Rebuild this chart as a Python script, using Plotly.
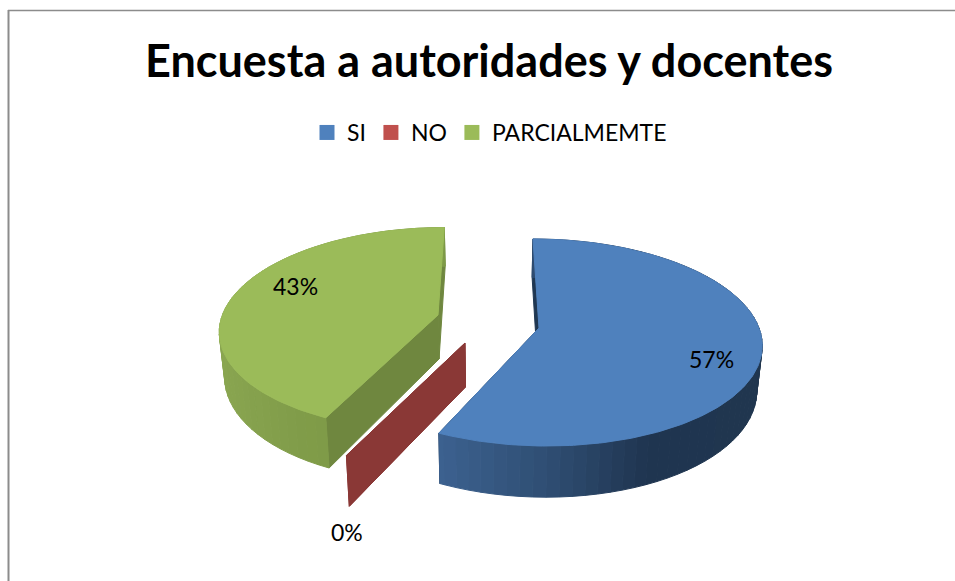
import numpy as np
import plotly.graph_objects as go

# data
categories = ["SI", "NO", "PARCIALMEMTE"]
values = [57, 0, 43]
title_text = "Encuesta a autoridades y docentes"

# style
legend_colors = ["#4F81BD", "#C0504D", "#9BBB59"]
top_colors = ["#4F81BD", "#8A3836", "#9BBB59"]
face_colors = ["#1F3752", "#8A3836", "#6F873F"]
wall_stops = [
    {"u": [-0.42, 0.0, 0.4, 1.0], "rgb": [(60, 97, 143), (47, 78, 115), (31, 53, 80), (32, 54, 79)]},
    {"u": [-1.0, 1.0], "rgb": [(138, 56, 54), (138, 56, 54)]},
    {"u": [-1.0, -0.42, 1.0], "rgb": [(138, 166, 81), (126, 154, 71), (126, 154, 71)]},
]
# exploded position of each slice's apex on the page, and its radius scale
apex = [(539, 328), (465, 343), (438, 315)]
radius_scale = [1.0, 1.06, 0.98]
label_xy = [(711, 359), (347, 532), (295, 286)]

# 3-d pie camera
VX = 490  # vanishing x
R = 220   # radius in x
K = 101.5  # radius in y
P = 0.14  # perspective along depth
Q = 0.02  # perspective along height
D = 44    # wall height


def project(slice_i, deg, r=1.0, z=0):
    ox, oy = apex[slice_i]
    t = np.radians(deg)
    u = r * radius_scale[slice_i] * np.sin(t)
    v = r * radius_scale[slice_i] * np.cos(t)
    s = 1 / (1 + P * v)
    x = VX + (ox + R * u - VX) * s
    y = oy - K * v * s + D * s * z
    x = VX + (x - VX) * (1 - Q * z)
    return x, y


def poly(fig, pts, color):
    xs = [p[0] for p in pts] + [pts[0][0]]
    ys = [p[1] for p in pts] + [pts[0][1]]
    fig.add_scatter(x=xs, y=ys, mode="lines", fill="toself", fillcolor=color,
                    line=dict(color=color, width=1), hoverinfo="skip", showlegend=False)


def wall_color(i, deg):
    u = np.sin(np.radians(deg))
    st = wall_stops[i]
    c = [np.interp(u, st["u"], [p[k] for p in st["rgb"]]) for k in range(3)]
    return f"rgb({c[0]:.0f},{c[1]:.0f},{c[2]:.0f})"


fig = go.Figure()

total = sum(values)
starts = list(np.cumsum([0] + values[:-1]) / total * 360)
ends = list(np.cumsum(values) / total * 360)

for i in [2, 1, 0]:
    a0, a1 = starts[i], ends[i]
    # cut faces
    for a in (a0, a1):
        poly(fig, [project(i, a, 0), project(i, a), project(i, a, z=1), project(i, a, 0, z=1)], face_colors[i])
    if a1 > a0:
        # outer wall
        angs = np.arange(a0, a1, 3.0).tolist() + [a1]
        for b0, b1 in zip(angs[:-1], angs[1:]):
            poly(fig, [project(i, b0), project(i, b1), project(i, b1, z=1), project(i, b0, z=1)],
                 wall_color(i, (b0 + b1) / 2))
        # top
        arc = np.arange(a0, a1, 1.0).tolist() + [a1]
        poly(fig, [project(i, a0, 0)] + [project(i, a) for a in arc], top_colors[i])

# legend entries
for name, color in zip(categories, legend_colors):
    fig.add_scatter(x=[None], y=[None], mode="markers", name=name,
                    marker=dict(symbol="square", size=15, color=color))

annotations = [
    dict(x=x, y=y, text=f"{v / total:.0%}", showarrow=False, xref="x", yref="y",
         font=dict(family="Lato", size=23, color="#000000"))
    for (x, y), v in zip(label_xy, values)
]

fig.update_layout(
    width=955,
    height=581,
    margin=dict(l=0, r=0, t=0, b=0),
    paper_bgcolor="white",
    plot_bgcolor="white",
    xaxis=dict(range=[0, 955], visible=False, fixedrange=True),
    yaxis=dict(range=[581, 0], visible=False, fixedrange=True),
    title=dict(text=f"<b>{title_text}</b>", x=489 / 955, xanchor="center", y=1 - 61 / 581, yanchor="middle",
               font=dict(family="Lato", size=45, color="#000000")),
    legend=dict(orientation="h", x=489.5 / 955, xanchor="center", y=1 - 132.5 / 581, yanchor="middle",
                font=dict(family="Lato", size=23, color="#000000"), traceorder="normal"),
    annotations=annotations,
    shapes=[
        dict(type="line", xref="x", yref="y", x0=8.5, x1=8.5, y0=10, y1=581, line=dict(color="#8C8C8C", width=2)),
        dict(type="line", xref="x", yref="y", x0=8, x1=955, y0=10.5, y1=10.5, line=dict(color="#8C8C8C", width=1.5)),
    ],
)

fig.write_html("out.html", config=dict(displayModeBar=False), post_script="document.body.style.margin='0';")
